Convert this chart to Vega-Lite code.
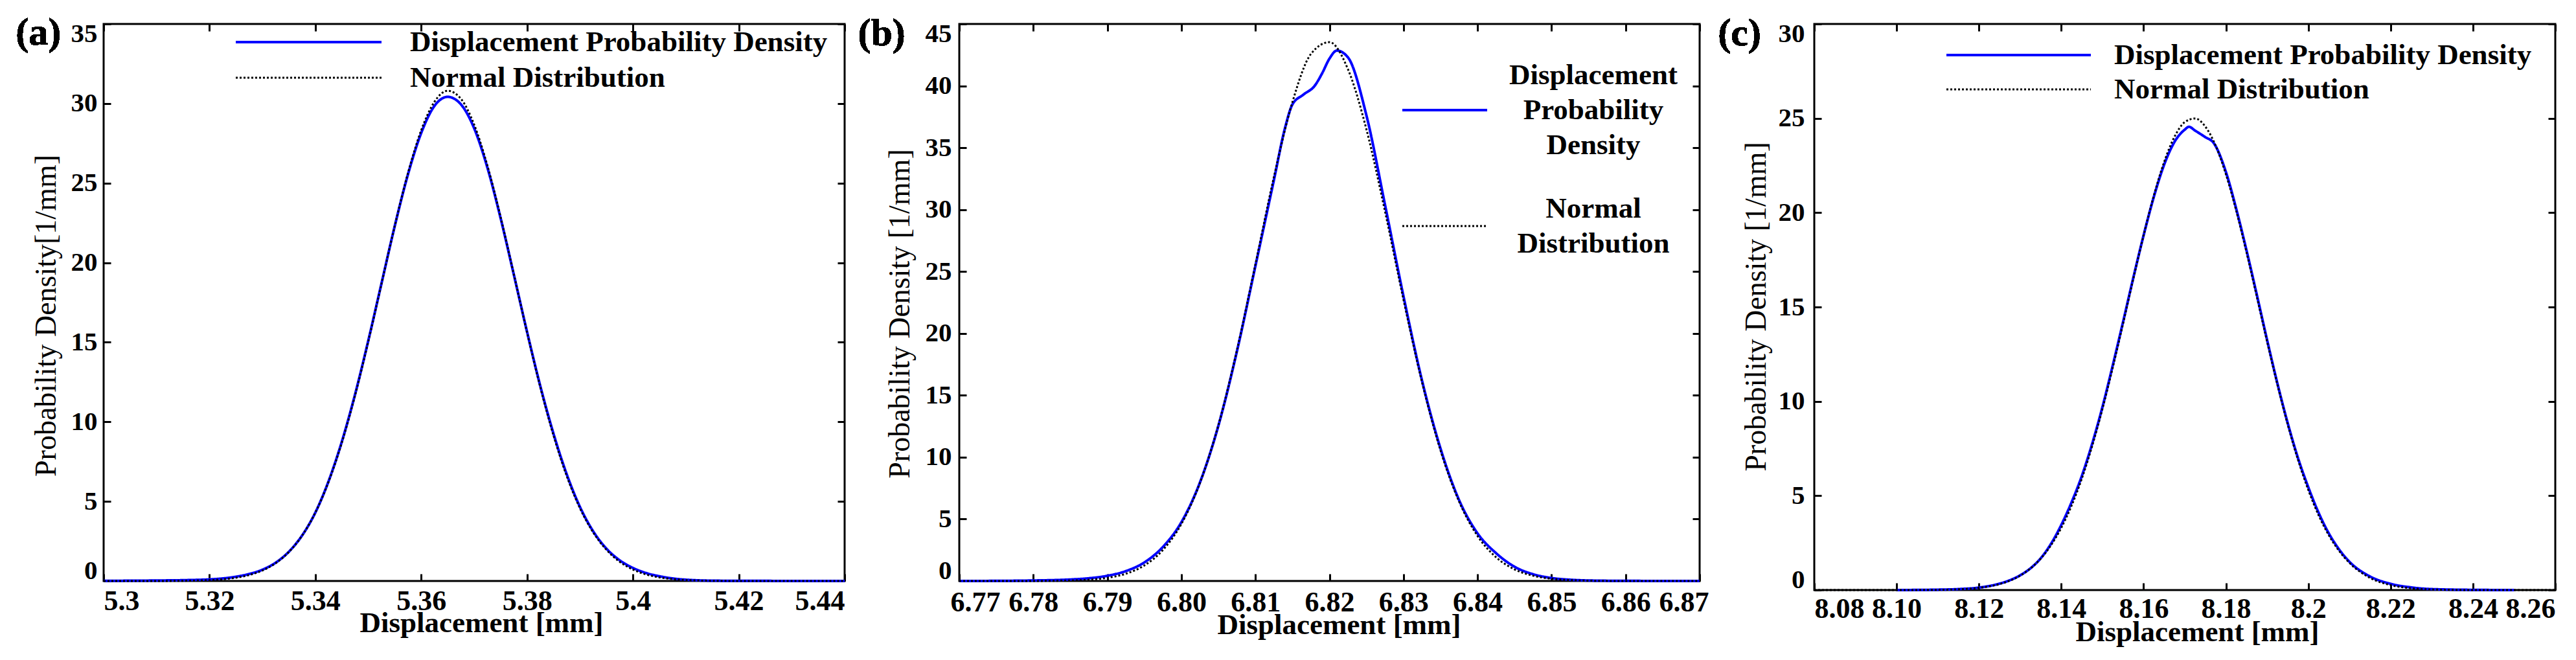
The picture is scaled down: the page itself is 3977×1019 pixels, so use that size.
{
"$schema": "https://vega.github.io/schema/vega-lite/v6.json",
"padding": {"left": 22, "top": 19, "right": 0, "bottom": 0},
"bounds": "flush",
"spacing": 177,
"resolve": {"scale": {"color": "independent", "strokeDash": "independent", "strokeWidth": "independent"}, "legend": {"color": "independent", "strokeDash": "independent"}},
"datasets": {
"a": [
{"s":"Displacement Probability Density","x":5.3,"y":0.01},{"s":"Displacement Probability Density","x":5.31,"y":0.03},{"s":"Displacement Probability Density","x":5.315,"y":0.05},{"s":"Displacement Probability Density","x":5.32,"y":0.1},{"s":"Displacement Probability Density","x":5.3225,"y":0.16},{"s":"Displacement Probability Density","x":5.325,"y":0.27},{"s":"Displacement Probability Density","x":5.3275,"y":0.44},{"s":"Displacement Probability Density","x":5.33,"y":0.71},{"s":"Displacement Probability Density","x":5.3325,"y":1.15},{"s":"Displacement Probability Density","x":5.335,"y":1.84},{"s":"Displacement Probability Density","x":5.3375,"y":2.86},{"s":"Displacement Probability Density","x":5.34,"y":4.3},{"s":"Displacement Probability Density","x":5.3425,"y":6.27},{"s":"Displacement Probability Density","x":5.345,"y":8.75},{"s":"Displacement Probability Density","x":5.3475,"y":11.72},{"s":"Displacement Probability Density","x":5.35,"y":15.1},{"s":"Displacement Probability Density","x":5.3525,"y":18.7},{"s":"Displacement Probability Density","x":5.355,"y":22.3},{"s":"Displacement Probability Density","x":5.3575,"y":25.55},{"s":"Displacement Probability Density","x":5.36,"y":28.15},{"s":"Displacement Probability Density","x":5.3625,"y":29.85},{"s":"Displacement Probability Density","x":5.365,"y":30.42},{"s":"Displacement Probability Density","x":5.3675,"y":29.95},{"s":"Displacement Probability Density","x":5.37,"y":28.45},{"s":"Displacement Probability Density","x":5.3725,"y":25.98},{"s":"Displacement Probability Density","x":5.375,"y":22.8},{"s":"Displacement Probability Density","x":5.3775,"y":19.25},{"s":"Displacement Probability Density","x":5.38,"y":15.65},{"s":"Displacement Probability Density","x":5.3825,"y":12.25},{"s":"Displacement Probability Density","x":5.385,"y":9.25},{"s":"Displacement Probability Density","x":5.3875,"y":6.7},{"s":"Displacement Probability Density","x":5.39,"y":4.65},{"s":"Displacement Probability Density","x":5.3925,"y":3.12},{"s":"Displacement Probability Density","x":5.395,"y":2.03},{"s":"Displacement Probability Density","x":5.3975,"y":1.3},{"s":"Displacement Probability Density","x":5.4,"y":0.82},{"s":"Displacement Probability Density","x":5.4025,"y":0.5},{"s":"Displacement Probability Density","x":5.405,"y":0.3},{"s":"Displacement Probability Density","x":5.4075,"y":0.16},{"s":"Displacement Probability Density","x":5.41,"y":0.08},{"s":"Displacement Probability Density","x":5.415,"y":0.02},{"s":"Displacement Probability Density","x":5.42,"y":0.01},{"s":"Displacement Probability Density","x":5.44,"y":0},
{"s":"Normal Distribution","x":5.3,"y":0},{"s":"Normal Distribution","x":5.31,"y":0.002},{"s":"Normal Distribution","x":5.315,"y":0.013},{"s":"Normal Distribution","x":5.32,"y":0.055},{"s":"Normal Distribution","x":5.3225,"y":0.108},{"s":"Normal Distribution","x":5.325,"y":0.205},{"s":"Normal Distribution","x":5.3275,"y":0.376},{"s":"Normal Distribution","x":5.33,"y":0.661},{"s":"Normal Distribution","x":5.3325,"y":1.119},{"s":"Normal Distribution","x":5.335,"y":1.823},{"s":"Normal Distribution","x":5.3375,"y":2.855},{"s":"Normal Distribution","x":5.34,"y":4.3},{"s":"Normal Distribution","x":5.3425,"y":6.24},{"s":"Normal Distribution","x":5.345,"y":8.69},{"s":"Normal Distribution","x":5.3475,"y":11.66},{"s":"Normal Distribution","x":5.35,"y":15.05},{"s":"Normal Distribution","x":5.3525,"y":18.68},{"s":"Normal Distribution","x":5.355,"y":22.31},{"s":"Normal Distribution","x":5.3575,"y":25.63},{"s":"Normal Distribution","x":5.36,"y":28.32},{"s":"Normal Distribution","x":5.3625,"y":30.11},{"s":"Normal Distribution","x":5.365,"y":30.8},{"s":"Normal Distribution","x":5.3675,"y":30.3},{"s":"Normal Distribution","x":5.37,"y":28.68},{"s":"Normal Distribution","x":5.3725,"y":26.11},{"s":"Normal Distribution","x":5.375,"y":22.87},{"s":"Normal Distribution","x":5.3775,"y":19.27},{"s":"Normal Distribution","x":5.38,"y":15.62},{"s":"Normal Distribution","x":5.3825,"y":12.18},{"s":"Normal Distribution","x":5.385,"y":9.14},{"s":"Normal Distribution","x":5.3875,"y":6.59},{"s":"Normal Distribution","x":5.39,"y":4.57},{"s":"Normal Distribution","x":5.3925,"y":3.05},{"s":"Normal Distribution","x":5.395,"y":1.96},{"s":"Normal Distribution","x":5.3975,"y":1.21},{"s":"Normal Distribution","x":5.4,"y":0.72},{"s":"Normal Distribution","x":5.4025,"y":0.41},{"s":"Normal Distribution","x":5.405,"y":0.227},{"s":"Normal Distribution","x":5.4075,"y":0.12},{"s":"Normal Distribution","x":5.41,"y":0.061},{"s":"Normal Distribution","x":5.415,"y":0.014},{"s":"Normal Distribution","x":5.42,"y":0.003},{"s":"Normal Distribution","x":5.44,"y":0}
],
"b": [
{"s":"Displacement Probability Density","x":6.77,"y":0},{"s":"Displacement Probability Density","x":6.775,"y":0.01},{"s":"Displacement Probability Density","x":6.78,"y":0.04},{"s":"Displacement Probability Density","x":6.785,"y":0.12},{"s":"Displacement Probability Density","x":6.7875,"y":0.22},{"s":"Displacement Probability Density","x":6.79,"y":0.42},{"s":"Displacement Probability Density","x":6.7925,"y":0.8},{"s":"Displacement Probability Density","x":6.795,"y":1.5},{"s":"Displacement Probability Density","x":6.7975,"y":2.75},{"s":"Displacement Probability Density","x":6.8,"y":4.75},{"s":"Displacement Probability Density","x":6.8025,"y":7.95},{"s":"Displacement Probability Density","x":6.805,"y":12.55},{"s":"Displacement Probability Density","x":6.8075,"y":18.55},{"s":"Displacement Probability Density","x":6.81,"y":25.45},{"s":"Displacement Probability Density","x":6.8125,"y":32.4},{"s":"Displacement Probability Density","x":6.814,"y":36.6},{"s":"Displacement Probability Density","x":6.815,"y":38.5},{"s":"Displacement Probability Density","x":6.8165,"y":39.3},{"s":"Displacement Probability Density","x":6.818,"y":40.0},{"s":"Displacement Probability Density","x":6.819,"y":41.0},{"s":"Displacement Probability Density","x":6.82,"y":42.2},{"s":"Displacement Probability Density","x":6.821,"y":42.85},{"s":"Displacement Probability Density","x":6.8225,"y":42.3},{"s":"Displacement Probability Density","x":6.825,"y":37.6},{"s":"Displacement Probability Density","x":6.8275,"y":30.4},{"s":"Displacement Probability Density","x":6.83,"y":23.0},{"s":"Displacement Probability Density","x":6.8325,"y":16.2},{"s":"Displacement Probability Density","x":6.835,"y":10.7},{"s":"Displacement Probability Density","x":6.8375,"y":6.55},{"s":"Displacement Probability Density","x":6.84,"y":3.85},{"s":"Displacement Probability Density","x":6.8425,"y":2.25},{"s":"Displacement Probability Density","x":6.845,"y":1.15},{"s":"Displacement Probability Density","x":6.8475,"y":0.55},{"s":"Displacement Probability Density","x":6.85,"y":0.24},{"s":"Displacement Probability Density","x":6.8525,"y":0.1},{"s":"Displacement Probability Density","x":6.855,"y":0.04},{"s":"Displacement Probability Density","x":6.86,"y":0.01},{"s":"Displacement Probability Density","x":6.87,"y":0},
{"s":"Normal Distribution","x":6.77,"y":0},{"s":"Normal Distribution","x":6.78,"y":0.004},{"s":"Normal Distribution","x":6.785,"y":0.038},{"s":"Normal Distribution","x":6.7875,"y":0.103},{"s":"Normal Distribution","x":6.79,"y":0.255},{"s":"Normal Distribution","x":6.7925,"y":0.588},{"s":"Normal Distribution","x":6.795,"y":1.257},{"s":"Normal Distribution","x":6.7975,"y":2.5},{"s":"Normal Distribution","x":6.8,"y":4.61},{"s":"Normal Distribution","x":6.8025,"y":7.91},{"s":"Normal Distribution","x":6.805,"y":12.59},{"s":"Normal Distribution","x":6.8075,"y":18.63},{"s":"Normal Distribution","x":6.81,"y":25.58},{"s":"Normal Distribution","x":6.8125,"y":32.64},{"s":"Normal Distribution","x":6.815,"y":38.69},{"s":"Normal Distribution","x":6.8175,"y":42.58},{"s":"Normal Distribution","x":6.82,"y":43.53},{"s":"Normal Distribution","x":6.8225,"y":41.34},{"s":"Normal Distribution","x":6.825,"y":36.47},{"s":"Normal Distribution","x":6.8275,"y":29.87},{"s":"Normal Distribution","x":6.83,"y":22.73},{"s":"Normal Distribution","x":6.8325,"y":16.07},{"s":"Normal Distribution","x":6.835,"y":10.55},{"s":"Normal Distribution","x":6.8375,"y":6.43},{"s":"Normal Distribution","x":6.84,"y":3.64},{"s":"Normal Distribution","x":6.8425,"y":1.92},{"s":"Normal Distribution","x":6.845,"y":0.94},{"s":"Normal Distribution","x":6.8475,"y":0.425},{"s":"Normal Distribution","x":6.85,"y":0.179},{"s":"Normal Distribution","x":6.8525,"y":0.07},{"s":"Normal Distribution","x":6.855,"y":0.025},{"s":"Normal Distribution","x":6.86,"y":0.002},{"s":"Normal Distribution","x":6.87,"y":0}
],
"c": [
{"s":"Displacement Probability Density","x":8.1,"y":0},{"s":"Displacement Probability Density","x":8.11,"y":0.02},{"s":"Displacement Probability Density","x":8.115,"y":0.05},{"s":"Displacement Probability Density","x":8.12,"y":0.13},{"s":"Displacement Probability Density","x":8.125,"y":0.34},{"s":"Displacement Probability Density","x":8.1275,"y":0.52},{"s":"Displacement Probability Density","x":8.13,"y":0.78},{"s":"Displacement Probability Density","x":8.1325,"y":1.15},{"s":"Displacement Probability Density","x":8.135,"y":1.68},{"s":"Displacement Probability Density","x":8.1375,"y":2.45},{"s":"Displacement Probability Density","x":8.14,"y":3.45},{"s":"Displacement Probability Density","x":8.1425,"y":4.65},{"s":"Displacement Probability Density","x":8.145,"y":6.05},{"s":"Displacement Probability Density","x":8.1475,"y":7.75},{"s":"Displacement Probability Density","x":8.15,"y":9.7},{"s":"Displacement Probability Density","x":8.1525,"y":11.9},{"s":"Displacement Probability Density","x":8.155,"y":14.2},{"s":"Displacement Probability Density","x":8.1575,"y":16.55},{"s":"Displacement Probability Density","x":8.16,"y":18.8},{"s":"Displacement Probability Density","x":8.1625,"y":20.85},{"s":"Displacement Probability Density","x":8.165,"y":22.55},{"s":"Displacement Probability Density","x":8.1675,"y":23.75},{"s":"Displacement Probability Density","x":8.17,"y":24.4},{"s":"Displacement Probability Density","x":8.171,"y":24.55},{"s":"Displacement Probability Density","x":8.1725,"y":24.35},{"s":"Displacement Probability Density","x":8.175,"y":24.0},{"s":"Displacement Probability Density","x":8.177,"y":23.7},{"s":"Displacement Probability Density","x":8.18,"y":22.15},{"s":"Displacement Probability Density","x":8.1825,"y":20.2},{"s":"Displacement Probability Density","x":8.185,"y":18.0},{"s":"Displacement Probability Density","x":8.1875,"y":15.65},{"s":"Displacement Probability Density","x":8.19,"y":13.25},{"s":"Displacement Probability Density","x":8.1925,"y":10.95},{"s":"Displacement Probability Density","x":8.195,"y":8.85},{"s":"Displacement Probability Density","x":8.1975,"y":7.0},{"s":"Displacement Probability Density","x":8.2,"y":5.45},{"s":"Displacement Probability Density","x":8.2025,"y":4.1},{"s":"Displacement Probability Density","x":8.205,"y":3.0},{"s":"Displacement Probability Density","x":8.2075,"y":2.15},{"s":"Displacement Probability Density","x":8.21,"y":1.5},{"s":"Displacement Probability Density","x":8.215,"y":0.72},{"s":"Displacement Probability Density","x":8.22,"y":0.33},{"s":"Displacement Probability Density","x":8.225,"y":0.14},{"s":"Displacement Probability Density","x":8.23,"y":0.05},{"s":"Displacement Probability Density","x":8.24,"y":0.01},{"s":"Displacement Probability Density","x":8.25,"y":0},
{"s":"Normal Distribution","x":8.08,"y":0},{"s":"Normal Distribution","x":8.1,"y":0.001},{"s":"Normal Distribution","x":8.11,"y":0.013},{"s":"Normal Distribution","x":8.115,"y":0.04},{"s":"Normal Distribution","x":8.12,"y":0.119},{"s":"Normal Distribution","x":8.125,"y":0.317},{"s":"Normal Distribution","x":8.1275,"y":0.497},{"s":"Normal Distribution","x":8.13,"y":0.763},{"s":"Normal Distribution","x":8.1325,"y":1.142},{"s":"Normal Distribution","x":8.135,"y":1.667},{"s":"Normal Distribution","x":8.1375,"y":2.375},{"s":"Normal Distribution","x":8.14,"y":3.3},{"s":"Normal Distribution","x":8.1425,"y":4.47},{"s":"Normal Distribution","x":8.145,"y":5.91},{"s":"Normal Distribution","x":8.1475,"y":7.63},{"s":"Normal Distribution","x":8.15,"y":9.6},{"s":"Normal Distribution","x":8.1525,"y":11.79},{"s":"Normal Distribution","x":8.155,"y":14.11},{"s":"Normal Distribution","x":8.1575,"y":16.5},{"s":"Normal Distribution","x":8.16,"y":18.8},{"s":"Normal Distribution","x":8.1625,"y":20.91},{"s":"Normal Distribution","x":8.165,"y":22.69},{"s":"Normal Distribution","x":8.1675,"y":24.02},{"s":"Normal Distribution","x":8.17,"y":24.8},{"s":"Normal Distribution","x":8.1725,"y":24.99},{"s":"Normal Distribution","x":8.175,"y":24.56},{"s":"Normal Distribution","x":8.1775,"y":23.55},{"s":"Normal Distribution","x":8.18,"y":22.03},{"s":"Normal Distribution","x":8.1825,"y":20.1},{"s":"Normal Distribution","x":8.185,"y":17.9},{"s":"Normal Distribution","x":8.1875,"y":15.55},{"s":"Normal Distribution","x":8.19,"y":13.17},{"s":"Normal Distribution","x":8.1925,"y":10.89},{"s":"Normal Distribution","x":8.195,"y":8.78},{"s":"Normal Distribution","x":8.1975,"y":6.91},{"s":"Normal Distribution","x":8.2,"y":5.31},{"s":"Normal Distribution","x":8.2025,"y":3.97},{"s":"Normal Distribution","x":8.205,"y":2.9},{"s":"Normal Distribution","x":8.2075,"y":2.07},{"s":"Normal Distribution","x":8.21,"y":1.44},{"s":"Normal Distribution","x":8.215,"y":0.645},{"s":"Normal Distribution","x":8.22,"y":0.262},{"s":"Normal Distribution","x":8.225,"y":0.097},{"s":"Normal Distribution","x":8.23,"y":0.032},{"s":"Normal Distribution","x":8.24,"y":0.002},{"s":"Normal Distribution","x":8.26,"y":0}
]
},
"hconcat": [
{
"width": 1144, "height": 860,
"data": {"name": "a"},
"layer": [
{"mark": {"type": "line", "interpolate": "monotone"},
 "encoding": {
  "x": {"field": "x", "type": "quantitative", "scale": {"domain": [5.3, 5.44], "nice": false, "zero": false},
        "axis": {"orient": "bottom", "values": [5.3, 5.32, 5.34, 5.36, 5.38, 5.4, 5.42, 5.44], "labelExpr": "format(datum.value, '~g')", "title": "Displacement [mm]", "titleX": 583, "titleY": 78, "titleBaseline": "alphabetic", "titleAlign": "center", "labelBaseline": "alphabetic", "labelPadding": 55}},
  "y": {"field": "y", "type": "quantitative", "scale": {"domain": [0, 35], "nice": false},
        "axis": {"orient": "left", "values": [0, 5, 10, 15, 20, 25, 30, 35], "format": "d", "title": "Probability Density[1/mm]", "titleX": -75, "titleY": 450, "titleBaseline": "alphabetic", "titleAlign": "center", "labelPadding": 21}},
  "color": {"field": "s", "type": "nominal", "scale": {"domain": ["Displacement Probability Density", "Normal Distribution"], "range": ["#0000ff", "#000000"]},
        "legend": {"orient": "none", "legendX": 202, "legendY": 3, "title": null, "symbolSize": 50625, "clipHeight": 50, "rowPadding": 5, "labelOffset": 42}},
  "strokeDash": {"field": "s", "type": "nominal", "scale": {"domain": ["Displacement Probability Density", "Normal Distribution"], "range": [[1, 0], [3, 3]]},
        "legend": {"orient": "none", "legendX": 202, "legendY": 3, "title": null, "symbolSize": 50625, "clipHeight": 50, "rowPadding": 5, "labelOffset": 42}},
  "strokeWidth": {"field": "s", "type": "nominal", "scale": {"domain": ["Displacement Probability Density", "Normal Distribution"], "range": [4, 3]}, "legend": null}
 }},
{"mark": {"type": "line", "opacity": 0},
 "encoding": {
  "x": {"field": "x", "type": "quantitative", "axis": {"orient": "top", "values": [5.3, 5.32, 5.34, 5.36, 5.38, 5.4, 5.42, 5.44], "labels": false, "title": null}},
  "y": {"field": "y", "type": "quantitative", "axis": {"orient": "right", "values": [0, 5, 10, 15, 20, 25, 30, 35], "labels": false, "title": null}},
  "detail": {"field": "s", "type": "nominal"}
 }},
{"mark": {"type": "text", "text": "(a)", "align": "left", "baseline": "middle", "font": "Liberation Serif", "fontWeight": "bold", "fontSize": 60, "color": "black"},
 "encoding": {
  "x": {"datum": 5.2834, "type": "quantitative", "axis": null},
  "y": {"datum": 34.43, "type": "quantitative", "axis": null}
 }}
],
"resolve": {"axis": {"x": "independent", "y": "independent"}}
},
{
"width": 1143, "height": 860,
"data": {"name": "b"},
"layer": [
{"mark": {"type": "line", "interpolate": "monotone"},
 "encoding": {
  "x": {"field": "x", "type": "quantitative", "scale": {"domain": [6.77, 6.87], "nice": false, "zero": false},
        "axis": {"orient": "bottom", "values": [6.77, 6.78, 6.79, 6.8, 6.81, 6.82, 6.83, 6.84, 6.85, 6.86, 6.87], "labelExpr": "format(datum.value, '.2f')", "labelFlushOffset": 14, "title": "Displacement [mm]", "titleX": 586, "titleY": 81, "titleBaseline": "alphabetic", "titleAlign": "center", "labelBaseline": "alphabetic", "labelPadding": 57}},
  "y": {"field": "y", "type": "quantitative", "scale": {"domain": [0, 45], "nice": false},
        "axis": {"orient": "left", "values": [0, 5, 10, 15, 20, 25, 30, 35, 40, 45], "format": "d", "title": "Probability Density [1/mm]", "titleX": -78, "titleY": 447, "titleBaseline": "alphabetic", "titleAlign": "center", "labelPadding": 23}},
  "color": {"field": "s", "type": "nominal", "scale": {"domain": ["Displacement Probability Density", "Normal Distribution"], "range": ["#0000ff", "#000000"]},
        "legend": {"orient": "none", "legendX": 682, "legendY": 52, "title": null, "symbolSize": 17161, "clipHeight": 162, "rowPadding": 17, "labelOffset": 162, "labelAlign": "center", "labelExpr": "datum.label == 'Normal Distribution' ? ['Normal', 'Distribution'] : ['Displacement', 'Probability', 'Density']", "encode": {"labels": {"update": {"lineHeight": {"value": 54}, "dy": {"signal": "datum.label == 'Normal Distribution' ? -27 : -54"}}}}}},
  "strokeDash": {"field": "s", "type": "nominal", "scale": {"domain": ["Displacement Probability Density", "Normal Distribution"], "range": [[1, 0], [3, 3]]},
        "legend": {"orient": "none", "legendX": 682, "legendY": 52, "title": null, "symbolSize": 17161, "clipHeight": 162, "rowPadding": 17, "labelOffset": 162, "labelAlign": "center", "labelExpr": "datum.label == 'Normal Distribution' ? ['Normal', 'Distribution'] : ['Displacement', 'Probability', 'Density']", "encode": {"labels": {"update": {"lineHeight": {"value": 54}, "dy": {"signal": "datum.label == 'Normal Distribution' ? -27 : -54"}}}}}},
  "strokeWidth": {"field": "s", "type": "nominal", "scale": {"domain": ["Displacement Probability Density", "Normal Distribution"], "range": [4, 3]}, "legend": null}
 }},
{"mark": {"type": "line", "opacity": 0},
 "encoding": {
  "x": {"field": "x", "type": "quantitative", "axis": {"orient": "top", "values": [6.77, 6.78, 6.79, 6.8, 6.81, 6.82, 6.83, 6.84, 6.85, 6.86, 6.87], "labels": false, "title": null}},
  "y": {"field": "y", "type": "quantitative", "axis": {"orient": "right", "values": [0, 5, 10, 15, 20, 25, 30, 35, 40, 45], "labels": false, "title": null}},
  "detail": {"field": "s", "type": "nominal"}
 }},
{"mark": {"type": "text", "text": "(b)", "align": "left", "baseline": "middle", "font": "Liberation Serif", "fontWeight": "bold", "fontSize": 60, "color": "black"},
 "encoding": {
  "x": {"datum": 6.7563, "type": "quantitative", "axis": null},
  "y": {"datum": 44.215, "type": "quantitative", "axis": null}
 }}
],
"resolve": {"axis": {"x": "independent", "y": "independent"}}
},
{
"width": 1144, "height": 874,
"data": {"name": "c"},
"layer": [
{"mark": {"type": "line", "interpolate": "monotone"},
 "encoding": {
  "x": {"field": "x", "type": "quantitative", "scale": {"domain": [8.08, 8.26], "nice": false, "zero": false},
        "axis": {"orient": "bottom", "values": [8.08, 8.1, 8.12, 8.14, 8.16, 8.18, 8.2, 8.22, 8.24, 8.26], "labelExpr": "datum.value == 8.2 ? '8.2' : format(datum.value, '.2f')", "title": "Displacement [mm]", "titleX": 591, "titleY": 78, "titleBaseline": "alphabetic", "titleAlign": "center", "labelBaseline": "alphabetic", "labelPadding": 53}},
  "y": {"field": "y", "type": "quantitative", "scale": {"domain": [0, 30], "nice": false},
        "axis": {"orient": "left", "values": [0, 5, 10, 15, 20, 25, 30], "format": "d", "title": "Probability Density [1/mm]", "titleX": -76, "titleY": 436, "titleBaseline": "alphabetic", "titleAlign": "center", "labelPadding": 26}},
  "color": {"field": "s", "type": "nominal", "scale": {"domain": ["Displacement Probability Density", "Normal Distribution"], "range": ["#0000ff", "#000000"]},
        "legend": {"orient": "none", "legendX": 202, "legendY": 24, "title": null, "symbolSize": 49729, "clipHeight": 48, "rowPadding": 5, "labelOffset": 34}},
  "strokeDash": {"field": "s", "type": "nominal", "scale": {"domain": ["Displacement Probability Density", "Normal Distribution"], "range": [[1, 0], [3, 3]]},
        "legend": {"orient": "none", "legendX": 202, "legendY": 24, "title": null, "symbolSize": 49729, "clipHeight": 48, "rowPadding": 5, "labelOffset": 34}},
  "strokeWidth": {"field": "s", "type": "nominal", "scale": {"domain": ["Displacement Probability Density", "Normal Distribution"], "range": [4, 3]}, "legend": null}
 }},
{"mark": {"type": "line", "opacity": 0},
 "encoding": {
  "x": {"field": "x", "type": "quantitative", "axis": {"orient": "top", "values": [8.08, 8.1, 8.12, 8.14, 8.16, 8.18, 8.2, 8.22, 8.24, 8.26], "labels": false, "title": null}},
  "y": {"field": "y", "type": "quantitative", "axis": {"orient": "right", "values": [0, 5, 10, 15, 20, 25, 30], "labels": false, "title": null}},
  "detail": {"field": "s", "type": "nominal"}
 }},
{"mark": {"type": "text", "text": "(c)", "align": "left", "baseline": "middle", "font": "Liberation Serif", "fontWeight": "bold", "fontSize": 60, "color": "black"},
 "encoding": {
  "x": {"datum": 8.0566, "type": "quantitative", "axis": null},
  "y": {"datum": 29.485, "type": "quantitative", "axis": null}
 }}
],
"resolve": {"axis": {"x": "independent", "y": "independent"}}
}
],
"config": {
  "view": {"stroke": "black", "strokeWidth": 3},
  "axis": {"grid": false, "domain": false, "tickSize": -11, "tickWidth": 3, "tickColor": "black", "labelFont": "Liberation Serif", "labelFontWeight": "bold", "labelColor": "black", "titleFont": "Liberation Serif", "titleColor": "black", "labelFlush": true, "labelOverlap": false},
  "axisX": {"labelFontSize": 44, "titleFontSize": 45, "titleFontWeight": "bold"},
  "axisY": {"labelFontSize": 41, "titleFontSize": 46, "titleFontWeight": "normal", "labelFlushOffset": 5},
  "legend": {"symbolType": "stroke", "symbolStrokeWidth": 4, "labelFont": "Liberation Serif", "labelFontWeight": "bold", "labelFontSize": 45, "labelColor": "black", "labelLimit": 2000, "padding": 0, "direction": "vertical"}
}
}
